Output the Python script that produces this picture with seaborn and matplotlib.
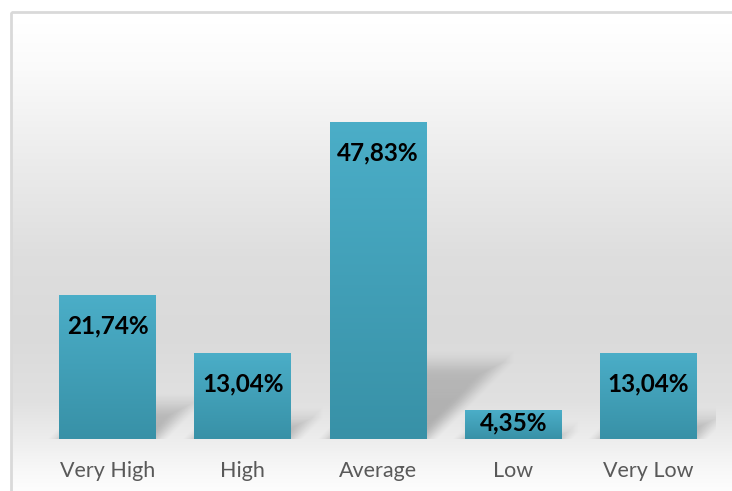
import numpy as np
import matplotlib
matplotlib.use("Agg")
import matplotlib.pyplot as plt
import seaborn as sns
from matplotlib.colors import LinearSegmentedColormap, to_rgb
from matplotlib.patches import Rectangle

categories = ["Very High", "High", "Average", "Low", "Very Low"]
values = [21.74, 13.04, 47.83, 4.35, 13.04]

BAR_TOP = "#4baec8"
BAR_BOTTOM = "#3891a7"
BAR_WIDTH = 0.717

sns.set_theme(style="white")
plt.rcParams["font.family"] = ["Lato", "DejaVu Sans"]

W, H = 732, 491
fig = plt.figure(figsize=(W / 100, H / 100), dpi=100)
fig.patch.set_facecolor("white")

# background panel with vertical grey gradient (Excel style)
bg = fig.add_axes([0, 0, 1, 1], zorder=0)
bg.set_xlim(0, W)
bg.set_ylim(H, 0)
bg.axis("off")
stops = [(0, "#ffffff"), (12, "#ffffff"), (60, "#fafafa"), (150, "#ececec"),
         (250, "#dedede"), (330, "#dadada"), (400, "#e1e1e1"), (440, "#eeeeee"),
         (470, "#f8f8f8"), (491, "#fdfdfd")]
ys = np.arange(H)
sy = [s[0] for s in stops]
grad = np.zeros((H, 1, 3))
for c in range(3):
    grad[:, 0, c] = np.interp(ys, sy, [to_rgb(s[1])[c] for s in stops])
bg.imshow(grad, extent=(11, W, H, 12), aspect="auto", interpolation="bilinear")
bg.add_patch(Rectangle((11, 12), W + 10, H + 10, fill=False, edgecolor="#d9d9d9", lw=2))

# plot area
x0, x1, ybase, ytop = 40, 716, 439, 41
ax = fig.add_axes([x0 / W, (H - ybase) / H, (x1 - x0) / W, (ybase - ytop) / H], zorder=1)
ax.set_facecolor("none")

sns.barplot(x=categories, y=values, color=BAR_TOP, saturation=1, width=BAR_WIDTH, ax=ax, zorder=3)
ax.set_xlim(-0.5, len(categories) - 0.5)
ax.set_ylim(0, 60)

px_x = (x1 - x0) / len(categories)   # pixels per category unit
px_y = (ybase - ytop) / 60.0          # pixels per percent

# soft perspective shadows behind the bars
gx = np.linspace(-0.5, len(categories) - 0.5, x1 - x0)
gy = np.linspace(0, 60, ybase - ytop)
XX, YY = np.meshgrid(gx, gy)
alpha = np.zeros_like(XX)
blur = 14.0
for i, v in enumerate(values):
    dy = 0.24 * v
    dx = dy * px_y / px_x
    t = YY / dy
    s = XX - (i - BAR_WIDTH / 2) - np.clip(t, 0, 1) * dx
    d_left = s * px_x
    d_right = (BAR_WIDTH - s) * px_x
    d_top = (dy - YY) * px_y
    d = np.minimum(np.minimum(d_left, d_right), d_top)
    m = np.clip(0.5 + d / (2 * blur), 0, 1)
    m = m * m * (3 - 2 * m)
    a = m * 0.26 * (1 - 0.4 * np.clip(t, 0, 1))
    alpha = np.maximum(alpha, a)
shadow = np.zeros(XX.shape + (4,))
shadow[..., 3] = alpha
ax.imshow(shadow, extent=(-0.5, len(categories) - 0.5, 0, 60), origin="lower",
          aspect="auto", zorder=2, interpolation="bilinear")

# gradient fill inside every bar
cmap = LinearSegmentedColormap.from_list("bar", [BAR_BOTTOM, BAR_TOP])
g = np.linspace(0, 1, 256).reshape(-1, 1)
for p in ax.patches:
    bx, by, bw, bh = p.get_x(), p.get_y(), p.get_width(), p.get_height()
    p.set_edgecolor("none")
    im = ax.imshow(g, cmap=cmap, extent=(bx, bx + bw, by, by + bh), origin="lower",
                   aspect="auto", zorder=3.5)
    im.set_clip_path(p)

ax.set_xlim(-0.5, len(categories) - 0.5)
ax.set_ylim(0, 60)

# value labels, inside end
for i, v in enumerate(values):
    bar_px = v * px_y
    off = min(20, max(0, bar_px - 28))
    ax.annotate(f"{v:.2f}".replace(".", ",") + "%", xy=(i, v), xytext=(0, -off),
                textcoords="offset pixels", ha="center", va="top",
                fontsize=17.5, fontweight="bold", color="black", zorder=5)

sns.despine(ax=ax, left=True, bottom=True)
ax.set_yticks([])
ax.set_xlabel("")
ax.set_ylabel("")
ax.tick_params(axis="x", length=0, pad=16, labelsize=15.5, labelcolor="#595959")

fig.savefig("out.png", dpi=100)
